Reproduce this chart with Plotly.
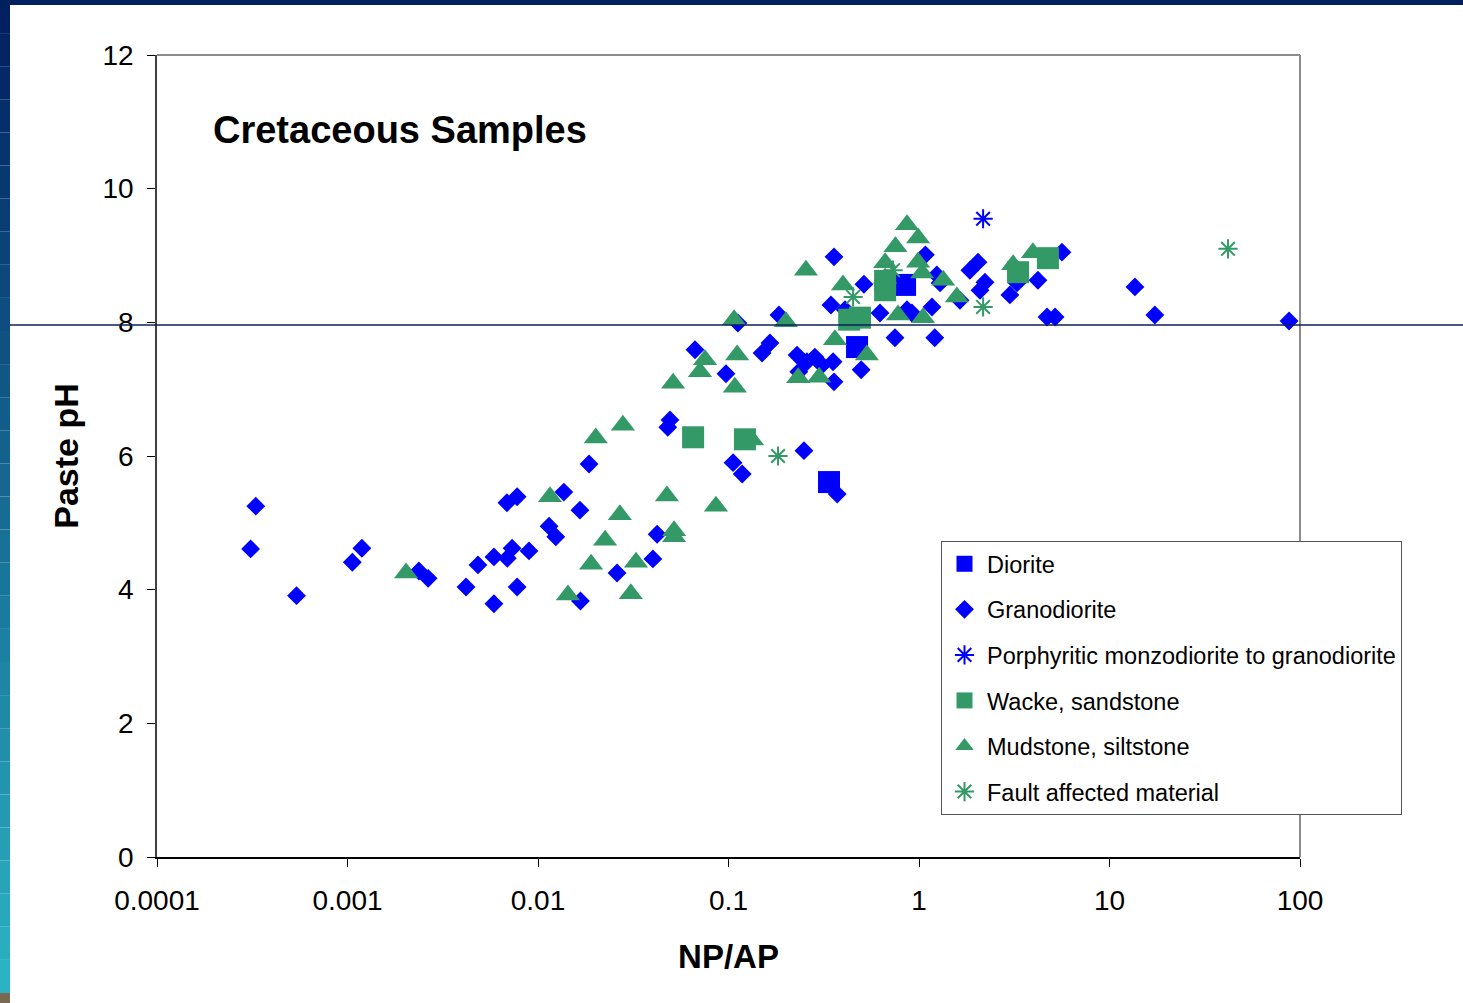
import plotly.graph_objects as go

# ---------------- data (NP/AP, paste pH) ----------------
diorite_x = [0.473, 0.337, 0.845]
diorite_y = [7.63, 5.61, 8.56]

grano_x = [0.00031, 0.00033, 0.00054, 0.00106, 0.00119, 0.00237, 0.00265, 0.00419, 0.00484,
           0.00587, 0.00587, 0.0069, 0.00731, 0.00687, 0.00777, 0.00777, 0.00897, 0.01143,
           0.0124, 0.01367, 0.0166, 0.01854, 0.0167, 0.026, 0.0422, 0.0401, 0.0493, 0.0480,
           0.0667, 0.097, 0.112, 0.1057, 0.118, 0.165, 0.150, 0.184, 0.229, 0.234, 0.258,
           0.284, 0.310, 0.354, 0.358, 0.345, 0.358, 0.372, 0.249, 0.497, 0.514, 0.748,
           1.08, 1.24, 1.29, 1.17, 1.21, 0.865, 0.918, 0.624, 0.409, 1.85, 2.04, 2.22,
           2.09, 1.64, 3.0, 3.27, 4.21, 5.63, 4.70, 5.18, 13.6, 17.3, 87.6]
grano_y = [4.61, 5.25, 3.91, 4.41, 4.62, 4.28, 4.17, 4.04, 4.37,
           3.79, 4.49, 4.47, 4.62, 5.30, 5.39, 4.04, 4.58, 4.95,
           4.79, 5.46, 5.19, 5.88, 3.83, 4.25, 4.83, 4.46, 6.54, 6.43,
           7.59, 7.23, 7.99, 5.90, 5.73, 7.69, 7.54, 8.11, 7.51, 7.26, 7.41,
           7.48, 7.36, 7.41, 7.11, 8.26, 8.98, 5.43, 6.08, 7.29, 8.57, 7.77,
           9.01, 8.71, 8.59, 8.23, 7.77, 8.19, 8.14, 8.14, 8.19, 8.78, 8.90, 8.60,
           8.48, 8.33, 8.41, 8.59, 8.63, 9.05, 8.08, 8.08, 8.53, 8.11, 8.02]

porph_x = [2.17]
porph_y = [9.55]

wacke_x = [0.0652, 0.122, 0.430, 0.49, 0.664, 0.664, 3.31, 4.75]
wacke_y = [6.28, 6.25, 8.04, 8.07, 8.48, 8.62, 8.75, 8.96]

mud_x = [0.00203, 0.01156, 0.0201, 0.0279, 0.01436, 0.019, 0.0225, 0.0269, 0.0307, 0.0327,
         0.0475, 0.0518, 0.0518, 0.0512, 0.0708, 0.0753, 0.0859, 0.107, 0.111, 0.108, 0.133,
         0.200, 0.232, 0.299, 0.255, 0.362, 0.399, 0.533, 0.664, 0.664, 0.776, 0.865,
         0.752, 0.989, 0.989, 1.04, 1.34, 1.58, 1.05, 3.96, 3.12]
mud_y = [4.25, 5.39, 6.27, 6.46, 3.92, 4.38, 4.74, 5.12, 3.94, 4.41,
         5.40, 4.79, 4.88, 7.09, 7.26, 7.44, 5.25, 8.04, 7.51, 7.03, 6.24,
         8.01, 7.17, 7.18, 8.78, 7.74, 8.56, 7.51, 8.89, 8.66, 8.11, 9.46,
         9.13, 9.26, 8.90, 8.74, 8.63, 8.38, 8.07, 9.04, 8.86]

fault_x = [0.182, 0.451, 0.731, 2.17, 41.9]
fault_y = [6.00, 8.38, 8.78, 8.23, 9.10]

x_tickvals = [0.0001, 0.001, 0.01, 0.1, 1, 10, 100]
x_ticktext = ["0.0001", "0.001", "0.01", "0.1", "1", "10", "100"]
y_tickvals = [0, 2, 4, 6, 8, 10, 12]

BLUE = "#0000FF"
GREEN = "#339966"
FONT = "Liberation Sans, Arial, sans-serif"

fig = go.Figure()

def add(name, xs, ys, symbol, size, color, group, line_w=0):
    marker = dict(symbol=symbol, size=size, color=color)
    if symbol.endswith("open"):
        marker["line"] = dict(color=color, width=line_w)
    else:
        marker["line"] = dict(width=0)
    fig.add_trace(go.Scatter(x=xs, y=ys, mode="markers", name=name, marker=marker,
                             legendgroup=group, cliponaxis=False))

add("Diorite", diorite_x, diorite_y, "square", 22, BLUE, "g1")
add("Granodiorite", grano_x, grano_y, "diamond", 14.5, BLUE, "g2")
add("Porphyritic monzodiorite to granodiorite", porph_x, porph_y, "asterisk-open", 16, BLUE, "g3", 2)
add("Wacke, sandstone", wacke_x, wacke_y, "square", 22, GREEN, "g4")
add("Mudstone, siltstone", mud_x, mud_y, "triangle-up", 21, GREEN, "g5")
add("Fault affected material", fault_x, fault_y, "asterisk-open", 16, GREEN, "g6", 2)

# geometry helpers (plot area spans px 157..1300 horizontally, 55..857 vertically)
L, R, T, B = 157, 1300, 55, 857
W, H = 1463, 1003
def px(xp):
    return (xp - L) / (R - L)
def py(yp):
    return (B - yp) / (B - T)

shapes = []
# slide decoration: top bar
shapes.append(dict(type="rect", xref="paper", yref="paper", x0=px(0), x1=px(W), y0=py(5), y1=py(0),
                   fillcolor="#002060", line=dict(width=0), layer="above"))
# left gradient bar
n = 30
c0 = (0x00, 0x20, 0x60)
c1 = (0x2B, 0xB2, 0xC4)
for i in range(n):
    t = i / (n - 1)
    col = "rgb(%d,%d,%d)" % tuple(round(a + (b - a) * t) for a, b in zip(c0, c1))
    y0p = 993 * i / n
    y1p = 993 * (i + 1) / n
    shapes.append(dict(type="rect", xref="paper", yref="paper", x0=px(0), x1=px(10),
                       y0=py(y1p), y1=py(y0p), fillcolor=col, line=dict(width=0), layer="above"))
shapes.append(dict(type="rect", xref="paper", yref="paper", x0=px(0), x1=px(10), y0=py(H), y1=py(993),
                   fillcolor="#7A6A52", line=dict(width=0), layer="above"))
# gray frame top & right
shapes.append(dict(type="line", xref="paper", yref="paper", x0=0, x1=1, y0=1, y1=1,
                   line=dict(color="#8C8C8C", width=2), layer="above"))
shapes.append(dict(type="line", xref="paper", yref="paper", x0=1, x1=1, y0=0, y1=1,
                   line=dict(color="#8C8C8C", width=2), layer="above"))
# horizontal slide line near pH 8
shapes.append(dict(type="line", xref="paper", yref="y", x0=px(10), x1=px(W), y0=7.96, y1=7.96,
                   line=dict(color="#0B1F5C", width=1.3), layer="above"))

fig.update_layout(
    width=W, height=H,
    margin=dict(l=L, r=W - R, t=T, b=H - B, pad=0),
    paper_bgcolor="white", plot_bgcolor="white",
    font=dict(family=FONT, color="black"),
    showlegend=True,
    shapes=shapes,
    legend=dict(x=px(941), y=py(541), xanchor="left", yanchor="top",
                bgcolor="white", bordercolor="#555555", borderwidth=1,
                font=dict(family=FONT, size=23.5, color="black"),
                tracegroupgap=12, itemwidth=35),
    annotations=[
        dict(text="<b>Cretaceous Samples</b>", xref="paper", yref="paper",
             x=px(211), y=py(130), xanchor="left", yanchor="middle", showarrow=False,
             font=dict(family=FONT, size=38, color="black")),
    ],
)

fig.update_xaxes(type="log", range=[-4, 2], tickvals=x_tickvals, ticktext=x_ticktext,
                 showgrid=False, zeroline=False, showline=True, linecolor="black", linewidth=1.5,
                 ticks="outside", ticklen=8, tickcolor="black", tickwidth=1,
                 ticklabelstandoff=10,
                 tickfont=dict(family=FONT, size=28, color="black"),
                 title=dict(text="<b>NP/AP</b>", font=dict(family=FONT, size=33, color="black"), standoff=30))
fig.update_yaxes(range=[0, 12], tickvals=y_tickvals,
                 showgrid=False, zeroline=False, showline=True, linecolor="#404040", linewidth=1.5,
                 ticks="outside", ticklen=8, tickcolor="black", tickwidth=1,
                 ticklabelstandoff=8,
                 tickfont=dict(family=FONT, size=28, color="black"),
                 title=dict(text="<b>Paste pH</b>", font=dict(family=FONT, size=34, color="black"), standoff=14))

fig.write_html("out.html")
